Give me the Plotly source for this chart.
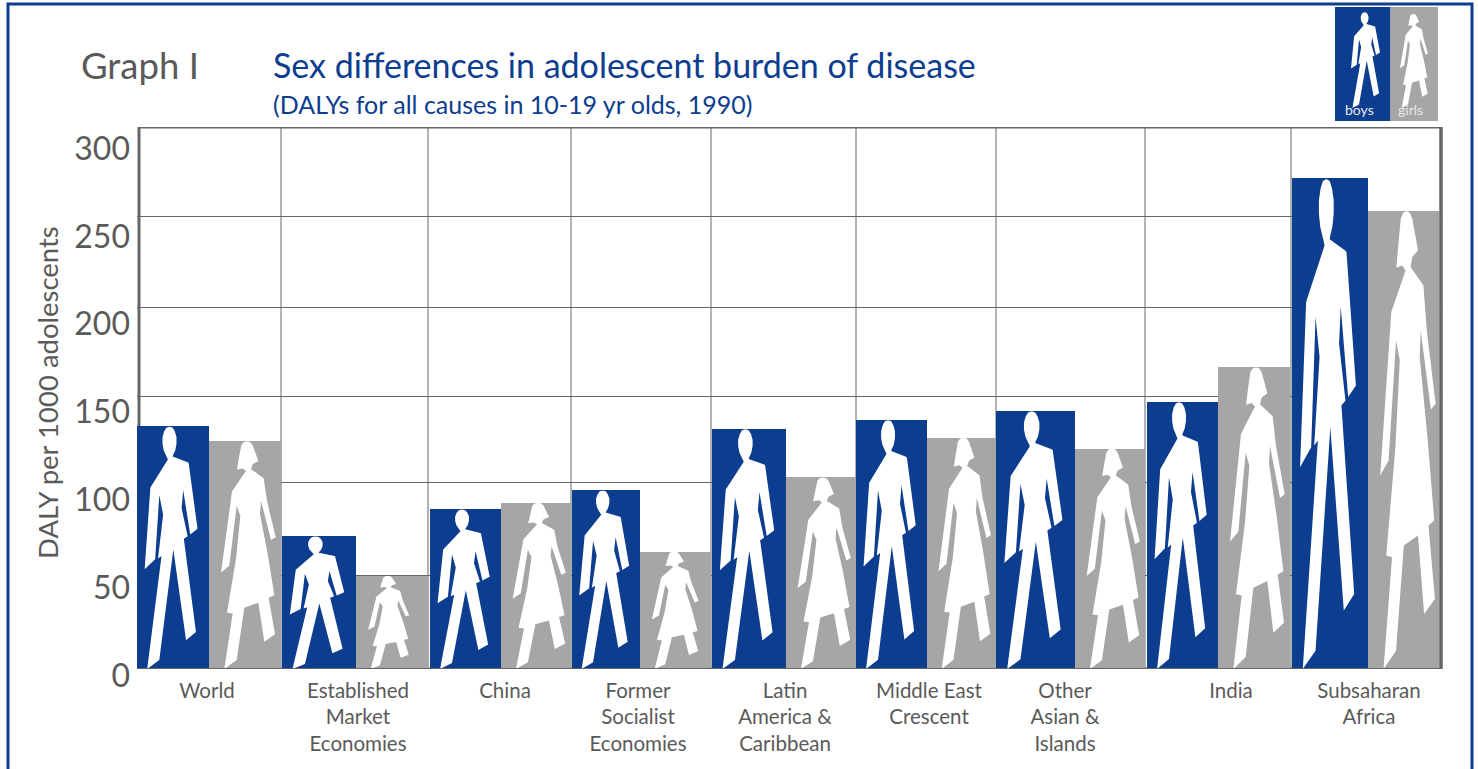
import plotly.graph_objects as go

W, H = 1478, 769

categories = ["World", "Established<br>Market<br>Economies", "China", "Former<br>Socialist<br>Economies",
              "Latin<br>America &<br>Caribbean", "Middle East<br>Crescent", "Other<br>Asian &<br>Islands",
              "India", "Subsaharan<br>Africa"]
boys = [134.5, 73.6, 88.5, 99, 133, 138, 143, 148, 272]
girls = [126, 51.5, 92, 65, 106, 128, 122, 167, 253.5]
y_ticks = [0, 50, 100, 150, 200, 250, 300]
grid_lines = [52, 103, 151, 200.3, 250.7]

# layout helpers (pixel scale on the x axis)
group_left = [137, 282, 430, 572, 712, 856, 996, 1147, 1292]
group_mid = [209, 356, 501, 640, 786, 927, 1075, 1218, 1368]
group_right = [281, 429, 571, 711, 856, 996, 1145, 1290, 1441]
label_center = [207, 358, 505, 638, 785, 929, 1065, 1231, 1369]
divider_x = [281, 428, 571, 711, 856, 996, 1145, 1291]
girl_width_scale = [1, 0.74, 1, 0.87, 1, 1, 1, 1, 1]

BLUE = "#0D3D8F"
GREY_BAR = "#A6A6A6"
TEXT = "#5A5A5A"
GRID = "#666666"
FONT = "Lato"

boy_px = [(140,26),(150,32),(157,55),(162,90),(162,130),(158,170),(152,195),(150,207),(195,240),(200,245),(228,645),(205,680),(183,410),
          (178,520),(197,690),(185,705),(223,1270),(192,1320),(152,770),(108,1440),(70,1495),(115,810),(104,825),
          (120,560),(108,440),(95,830),(62,890),(80,395),(135,225),(128,195),(122,170),(118,130),(118,90),(123,55),(130,32)]
girl_px = [(378,122),(388,127),(395,145),(405,200),(412,240),(395,260),(390,290),(428,345),(438,480),(464,700),(450,717),(420,480),
           (417,560),(440,800),(460,1050),(443,1065),(462,1285),(430,1330),(412,1095),(370,1125),(347,1440),(310,1495),
           (335,1160),(318,1155),(345,830),(358,570),(347,510),(325,870),(300,915),(333,425),(375,300),(365,285),
           (348,292),(354,220),(361,145),(368,127)]
boy_shape = [((x-38)/226, (1495-y)/1473) for x, y in boy_px]
girl_shape = [((x-264)/216, (1495-y)/1373) for x, y in girl_px]


def px(x):
    return x / W


def py(y):
    return 1 - y / H


fig = go.Figure()
fig.add_trace(go.Bar(x=[(a+b)/2 for a, b in zip(group_left, group_mid)], y=boys,
                     width=[b-a for a, b in zip(group_left, group_mid)],
                     marker=dict(color=BLUE, line=dict(width=0)), name="boys", showlegend=False))
fig.add_trace(go.Bar(x=[(a+b)/2 for a, b in zip(group_mid, group_right)], y=girls,
                     width=[b-a for a, b in zip(group_mid, group_right)],
                     marker=dict(color=GREY_BAR, line=dict(width=0)), name="girls", showlegend=False))


def figure_trace(template, left, right, value, name, scale=1.0, anchor=0.167):
    pts = list(template) + [template[0]]
    xs = [left + (anchor + (nx-anchor)*scale)*(right-left) for nx, _ in pts]
    ys = [ny*value for _, ny in pts]
    return go.Scatter(x=xs, y=ys, mode="lines", fill="toself", fillcolor="white",
                      line=dict(width=0, color="white"), hoverinfo="skip", showlegend=False, name=name)


for i in range(len(categories)):
    fig.add_trace(figure_trace(boy_shape, group_left[i], group_mid[i], boys[i], "boy"))
    fig.add_trace(figure_trace(girl_shape, group_mid[i], group_right[i], girls[i], "girl", girl_width_scale[i]))

# carrier for the offset numeric labels
fig.add_trace(go.Scatter(x=[None], y=[None], yaxis="y2", showlegend=False, hoverinfo="skip"))

shapes = []
# outer frame
shapes.append(dict(type="rect", xref="paper", yref="paper", x0=px(8), x1=px(1472), y0=-0.05, y1=py(4),
                   line=dict(color=BLUE, width=3), fillcolor="rgba(0,0,0,0)", layer="below"))
for d in divider_x:
    shapes.append(dict(type="line", xref="x", yref="paper", x0=d, x1=d, y0=py(669), y1=py(127),
                       line=dict(color=GRID, width=1), layer="below"))
# plot border
shapes.append(dict(type="rect", xref="x", yref="y", x0=139, x1=1441, y0=0, y1=300,
                   line=dict(color="#666666", width=3), layer="below"))
shapes.append(dict(type="line", xref="x", yref="y", x0=137, x1=1441, y0=0, y1=0,
                   line=dict(color="#666666", width=2), layer="above"))
shapes.append(dict(type="line", xref="x", yref="y", x0=1441, x1=1441, y0=0, y1=300,
                   line=dict(color="#666666", width=3), layer="above"))
# key
shapes.append(dict(type="rect", xref="paper", yref="paper", x0=px(1335), x1=px(1390), y0=py(121), y1=py(7),
                   fillcolor=BLUE, line=dict(width=0)))
shapes.append(dict(type="rect", xref="paper", yref="paper", x0=px(1390), x1=px(1438), y0=py(121), y1=py(7),
                   fillcolor=GREY_BAR, line=dict(width=0)))


def key_path(template, x0, x1, y0, y1):
    tx = [p[0] for p in template]
    a, b = min(tx), max(tx)
    pts = [(px(x0 + (nx-a)/(b-a)*(x1-x0)), py(y1 - ny*(y1-y0))) for nx, ny in template]
    return "M " + " L ".join(f"{x:.5f},{y:.5f}" for x, y in pts) + " Z"


shapes.append(dict(type="path", xref="paper", yref="paper", path=key_path(boy_shape, 1351, 1380, 12, 108),
                   fillcolor="white", line=dict(width=0)))
shapes.append(dict(type="path", xref="paper", yref="paper", path=key_path(girl_shape, 1400, 1428, 14, 108),
                   fillcolor="white", line=dict(width=0)))


def note(text, x, y, size, color=TEXT, xanchor="left", angle=0):
    return dict(text=text, x=px(x), y=py(y), xref="paper", yref="paper", showarrow=False, xanchor=xanchor,
                yanchor="middle", font=dict(family=FONT, size=size, color=color), textangle=angle)


annotations = [
    note("Graph I", 79, 65, 36.5),
    note("(DALYs for all causes in 10-19 yr olds, 1990)", 271, 104, 25, BLUE),
    note("DALY per 1000 adolescents", 47, 393, 27.5, xanchor="center", angle=-90),
    note("boys", 1359, 109.5, 14, "#E8E8E8", "center"),
    note("girls", 1410, 109.5, 14, "#E8E8E8", "center"),
]

fig.update_layout(
    width=W, height=H, margin=dict(l=0, r=0, t=0, b=0), autosize=False,
    paper_bgcolor="white", plot_bgcolor="rgba(0,0,0,0)", barmode="overlay", bargap=0,
    showlegend=False, shapes=shapes, annotations=annotations,
    title=dict(text="Sex differences in adolescent burden of disease", x=px(273), y=py(66), xanchor="left",
               yanchor="middle", xref="paper", yref="paper", font=dict(family=FONT, size=34, color=BLUE)),
    xaxis=dict(domain=[px(137), px(1443)], range=[137, 1443], tickmode="array", tickvals=label_center,
               ticktext=categories, ticks="", showgrid=False, zeroline=False, showline=False, tickangle=0,
               ticklabelstandoff=7,
               tickfont=dict(family=FONT, size=20.5, color=TEXT), automargin=False, anchor="y"),
    yaxis=dict(domain=[py(669), py(127)], range=[0, 300], tickmode="array", tickvals=grid_lines,
               showticklabels=False, ticks="", showgrid=True, gridcolor=GRID, gridwidth=1,
               zeroline=False, showline=False, automargin=False, anchor="x"),
    yaxis2=dict(domain=[py(691.5), py(128.5)], range=[-9.1, 311.4], tickmode="array", tickvals=y_ticks,
                ticktext=[str(v) for v in y_ticks], anchor="free", position=px(130), side="left",
                showgrid=False, zeroline=False, showline=False, ticks="", automargin=False,
                tickfont=dict(family=FONT, size=32, color=TEXT)),
)

fig.write_html("out.html", config=dict(displayModeBar=False),
               post_script="document.body.style.margin='0';document.body.style.overflow='hidden';")
